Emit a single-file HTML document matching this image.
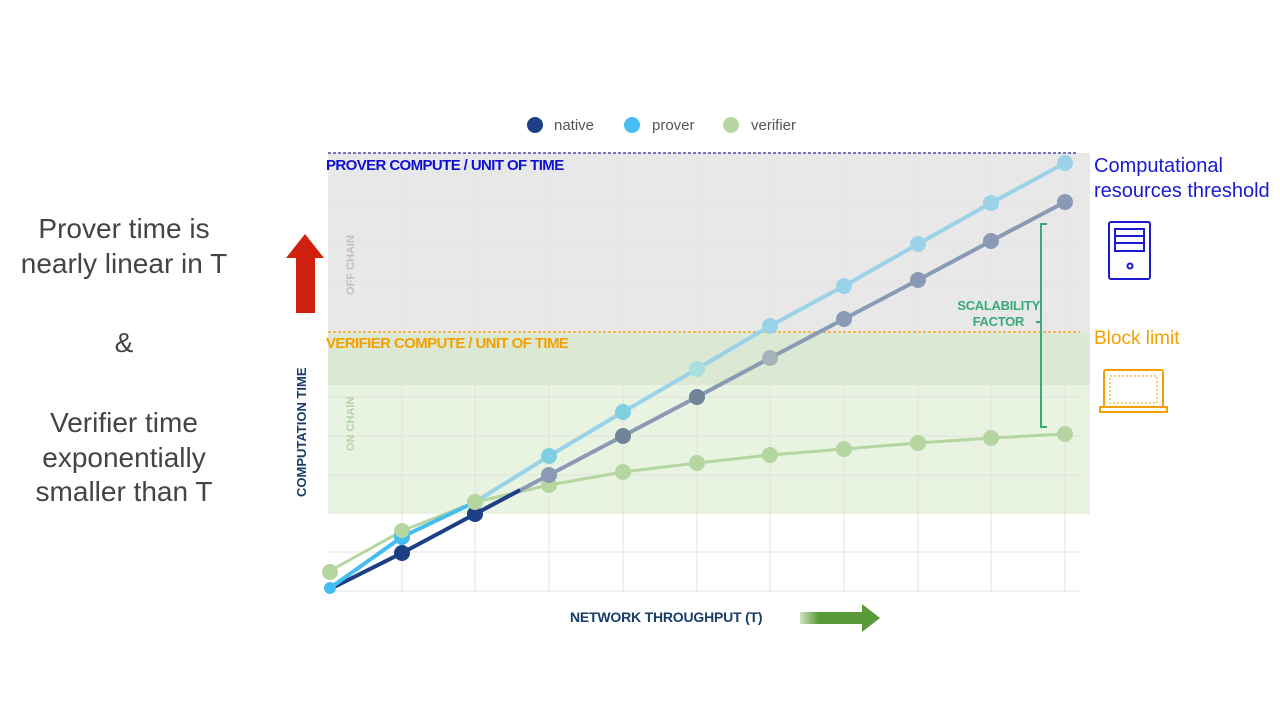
<!DOCTYPE html>
<html><head><meta charset="utf-8"><style>
body{margin:0;width:1280px;height:720px;background:#fff;overflow:hidden;font-family:"Liberation Sans","DejaVu Sans",sans-serif}
</style></head><body>
<svg width="1280" height="720" xmlns="http://www.w3.org/2000/svg" font-family="Liberation Sans, DejaVu Sans, sans-serif">
<defs><linearGradient id="ga" x1="0" x2="1"><stop offset="0" stop-color="#cfe3c3"/><stop offset="0.3" stop-color="#5a9a3a"/></linearGradient></defs>
<rect x="328" y="153" width="762" height="180" fill="#e8e8e8"/>
<rect x="328" y="333" width="762" height="52" fill="#dbe8d3"/>
<rect x="328" y="385" width="762" height="129" fill="#e8f3e1"/>
<g stroke="#e3e3e3" stroke-width="1">
<line x1="402" y1="160" x2="402" y2="592"/><line x1="475" y1="160" x2="475" y2="592"/><line x1="549" y1="160" x2="549" y2="592"/><line x1="623" y1="160" x2="623" y2="592"/><line x1="697" y1="160" x2="697" y2="592"/><line x1="770" y1="160" x2="770" y2="592"/><line x1="844" y1="160" x2="844" y2="592"/><line x1="918" y1="160" x2="918" y2="592"/><line x1="991" y1="160" x2="991" y2="592"/><line x1="1065" y1="160" x2="1065" y2="592"/>
<line x1="328" y1="202" x2="1080" y2="202"/><line x1="328" y1="242" x2="1080" y2="242"/><line x1="328" y1="281" x2="1080" y2="281"/><line x1="328" y1="320" x2="1080" y2="320"/><line x1="328" y1="397" x2="1080" y2="397"/><line x1="328" y1="436" x2="1080" y2="436"/><line x1="328" y1="475" x2="1080" y2="475"/><line x1="328" y1="552" x2="1080" y2="552"/><line x1="328" y1="591" x2="1080" y2="591"/>
</g>
<line x1="328" y1="153" x2="1078" y2="153" stroke="#4a4ab0" stroke-width="1.5" stroke-dasharray="3,2"/>
<line x1="328" y1="332" x2="1080" y2="332" stroke="#f5a623" stroke-width="1.5" stroke-dasharray="3,2"/>
<text x="326" y="170" font-size="15" font-weight="bold" fill="#1010d0" letter-spacing="-0.6">PROVER COMPUTE / UNIT OF TIME</text>
<text x="326" y="348" font-size="15" font-weight="bold" fill="#f5a000" letter-spacing="-0.6">VERIFIER COMPUTE / UNIT OF TIME</text>
<text transform="translate(354,295) rotate(-90)" font-size="11" font-weight="bold" fill="#c0c0c0">OFF CHAIN</text>
<text transform="translate(354,451) rotate(-90)" font-size="11" font-weight="bold" fill="#b8d4a8">ON CHAIN</text>
<text transform="translate(306,497) rotate(-90)" font-size="13" font-weight="bold" fill="#1a3c6a">COMPUTATION TIME</text>
<polyline fill="none" stroke="#b5d6a0" stroke-width="3" points="328,572 402,531 475,502 549,485 623,472 697,463 770,455 844,449 918,443 991,438 1065,434"/>
<g fill="#b5d6a0"><circle cx="330" cy="572" r="8"/><circle cx="402" cy="531" r="8"/><circle cx="475" cy="502" r="8"/><circle cx="549" cy="485" r="8"/><circle cx="623" cy="472" r="8"/><circle cx="697" cy="463" r="8"/><circle cx="770" cy="455" r="8"/><circle cx="844" cy="449" r="8"/><circle cx="918" cy="443" r="8"/><circle cx="991" cy="438" r="8"/><circle cx="1065" cy="434" r="8"/></g>
<polyline fill="none" stroke="#8a9ab5" stroke-width="4" points="475,514 549,475 623,436 697,397 770,358 844,319 918,280 991,241 1065,202"/>
<polyline fill="none" stroke="#1c3f85" stroke-width="4" points="328,590 402,553 475,514 520,490"/>
<g fill="#8a9ab5"><circle cx="549" cy="475" r="8"/><circle cx="623" cy="436" r="8" fill="#6f8499"/><circle cx="697" cy="397" r="8" fill="#6f8499"/><circle cx="770" cy="358" r="8" fill="#a3b3b8"/><circle cx="844" cy="319" r="8"/><circle cx="918" cy="280" r="8"/><circle cx="991" cy="241" r="8"/><circle cx="1065" cy="202" r="8"/></g>
<g fill="#1c3f85"><circle cx="402" cy="553" r="8"/><circle cx="475" cy="514" r="8"/></g>
<polyline fill="none" stroke="#9ad3e8" stroke-width="4" points="475,502 549,456 623,412 697,369 770,326 844,286 918,244 991,203 1065,163"/>
<polyline fill="none" stroke="#45bdf0" stroke-width="4" points="330,588 402,537 475,502"/>
<g fill="#9ad3e8"><circle cx="549" cy="456" r="8" fill="#7fcfe0"/><circle cx="623" cy="412" r="8" fill="#7fcfe0"/><circle cx="697" cy="369" r="8" fill="#a8dfe0"/><circle cx="770" cy="326" r="8"/><circle cx="844" cy="286" r="8"/><circle cx="918" cy="244" r="8"/><circle cx="991" cy="203" r="8"/><circle cx="1065" cy="163" r="8"/></g>
<circle cx="402" cy="537" r="8" fill="#45bdf0"/><circle cx="330" cy="588" r="6" fill="#45bdf0"/>
<circle cx="402" cy="531" r="7" fill="#b5d6a0"/><circle cx="475" cy="502" r="8" fill="#b5d6a0"/>
<path d="M1047,224 H1041 V427 H1047 M1041,322 H1036" fill="none" stroke="#3aaa7a" stroke-width="2"/>
<text x="1040" y="310" font-size="13" font-weight="bold" fill="#3aaa7a" text-anchor="end" letter-spacing="-0.3">SCALABILITY</text>
<text x="1024" y="326" font-size="13" font-weight="bold" fill="#3aaa7a" text-anchor="end" letter-spacing="-0.3">FACTOR</text>
<circle cx="535" cy="125" r="8" fill="#1c3f85"/><text x="554" y="130" font-size="15" fill="#555">native</text>
<circle cx="632" cy="125" r="8" fill="#45bdf0"/><text x="652" y="130" font-size="15" fill="#555">prover</text>
<circle cx="731" cy="125" r="8" fill="#b5d6a0"/><text x="751" y="130" font-size="15" fill="#555">verifier</text>
<text x="570" y="622" font-size="14" font-weight="bold" fill="#1a3c6a" letter-spacing="-0.2">NETWORK THROUGHPUT (T)</text>
<rect x="800" y="612" width="63" height="12" fill="url(#ga)"/><polygon points="862,604 880,618 862,632" fill="#5a9a3a"/>
<rect x="296" y="255" width="19" height="58" fill="#d02010"/><polygon points="286,258 305,234 324,258" fill="#d02010"/>
<g font-size="28" fill="#444" text-anchor="middle">
<text x="124" y="238">Prover time is</text><text x="124" y="273">nearly linear in T</text>
<text x="124" y="352">&amp;</text>
<text x="124" y="432">Verifier time</text><text x="124" y="467">exponentially</text><text x="124" y="501">smaller than T</text>
</g>
<text x="1094" y="172" font-size="20" fill="#1a1ad0">Computational</text>
<text x="1094" y="197" font-size="20" fill="#1a1ad0">resources  threshold</text>
<text x="1094" y="344" font-size="19" fill="#f5a000">Block limit</text>
<g fill="none" stroke="#1a1ad0" stroke-width="2"><rect x="1109" y="222" width="41" height="57" rx="2"/><rect x="1115" y="229" width="29" height="22"/><line x1="1115" y1="236" x2="1144" y2="236"/><line x1="1115" y1="243" x2="1144" y2="243"/><circle cx="1130" cy="266" r="2.5"/></g>
<g fill="none" stroke="#f5a000" stroke-width="2"><rect x="1104" y="370" width="59" height="37" rx="2"/><path d="M1100,407 H1167 V412 H1100 Z"/><rect x="1110" y="376" width="47" height="27" stroke-width="1" stroke-dasharray="2,2"/></g>
</svg>
</body></html>
